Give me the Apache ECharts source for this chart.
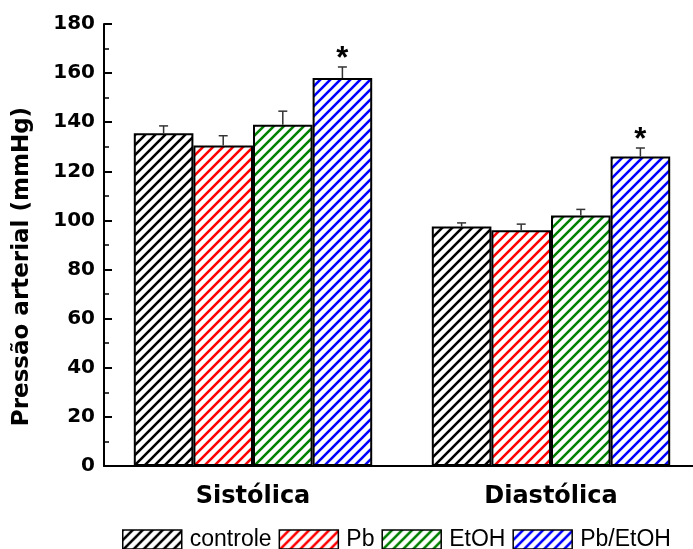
<!DOCTYPE html>
<html>
<head>
<meta charset="utf-8">
<script src="https://cdn.jsdelivr.net/npm/echarts@6/dist/echarts.min.js"></script>
<style>html,body{margin:0;padding:0;background:#fff}#c{width:693px;height:549px}</style>
</head>
<body>
<div id="c"></div>
<script>
var categories = ['Sistólica', 'Diastólica'];
var seriesNames = ['controle', 'Pb', 'EtOH', 'Pb/EtOH'];
var controleVals = [135.5, 97.5];
var pbVals = [130.5, 96];
var etohVals = [139, 102];
var pbEtohVals = [158, 126];
var controleErr = [3, 1.5];
var pbErr = [4, 2.5];
var etohErr = [5.5, 2.5];
var pbEtohErr = [4.5, 3.5];
var controleSig = ['', ''];
var pbSig = ['', ''];
var etohSig = ['', ''];
var pbEtohSig = ['*', '*'];
var yTicks = [0, 20, 40, 60, 80, 100, 120, 140, 160, 180];
var colors = ['#000000', '#ff0000', '#008000', '#0000ff'];

var values = [controleVals, pbVals, etohVals, pbEtohVals];
var errs = [controleErr, pbErr, etohErr, pbEtohErr];
var sigs = [controleSig, pbSig, etohSig, pbEtohSig];

var boldFont = '"DejaVu Sans", Verdana, sans-serif';
var plainFont = '"Liberation Sans", Arial, sans-serif';

function hatch(color) {
  var s = 10;
  var cv = document.createElement('canvas');
  cv.width = s; cv.height = s;
  var ctx = cv.getContext('2d');
  ctx.fillStyle = '#fff';
  ctx.fillRect(0, 0, s, s);
  ctx.strokeStyle = color;
  ctx.lineWidth = 2.6;
  ctx.lineCap = 'square';
  ctx.beginPath();
  ctx.moveTo(-2, s + 2); ctx.lineTo(s + 2, -2);
  ctx.moveTo(-2, 2); ctx.lineTo(2, -2);
  ctx.moveTo(s - 2, s + 2); ctx.lineTo(s + 2, s - 2);
  ctx.stroke();
  return cv;
}

var chart = echarts.init(document.getElementById('c'), null, {renderer: 'canvas'});
var nS = seriesNames.length;
var series = [];
seriesNames.forEach(function (name, i) {
  series.push({
    name: name,
    type: 'bar',
    data: values[i],
    barGap: '0%',
    barCategoryGap: '20%',
    itemStyle: {
      color: {image: hatch(colors[i]), repeat: 'repeat'},
      borderColor: '#000',
      borderWidth: 2
    },
    emphasis: {disabled: true}
  });
});
seriesNames.forEach(function (name, i) {
  series.push({
    type: 'custom',
    name: name + '_err',
    z: 5,
    data: values[i].map(function (v, k) { return [k, v, errs[i][k]]; }),
    renderItem: function (params, api) {
      var k = api.value(0), v = api.value(1), e = api.value(2);
      var sig = sigs[i][k];
      var band = api.size([1, 0])[0];
      var bw = band * 0.8 / nS;
      var off = -band * 0.4 + bw * (i + 0.5);
      var top = api.coord([k, v + e]);
      var base = api.coord([k, v]);
      var x = top[0] + off;
      var children = [
        {type: 'line', shape: {x1: x, y1: base[1], x2: x, y2: top[1]}, style: {stroke: '#333', lineWidth: 1.5}},
        {type: 'line', shape: {x1: x - 4.5, y1: top[1], x2: x + 4.5, y2: top[1]}, style: {stroke: '#333', lineWidth: 1.5}}
      ];
      if (sig) {
        children.push({type: 'text', style: {text: sig, x: x, y: top[1] + 8, align: 'center', verticalAlign: 'bottom',
          font: 'bold 31px "Liberation Sans", Arial, sans-serif', fill: '#000'}});
      }
      return {type: 'group', children: children};
    }
  });
});

chart.setOption({
  animation: false,
  backgroundColor: '#fff',
  grid: {left: 104, top: 24, height: 442, width: 596, containLabel: false, outerBoundsMode: 'none'},
  legend: {
    data: seriesNames,
    left: 122,
    top: 528,
    padding: 0,
    icon: 'rect',
    itemWidth: 59,
    itemHeight: 19,
    itemGap: 7,
    textStyle: {fontFamily: plainFont, fontSize: 23, color: '#000', padding: [0, 0, 0, 3]},
    itemStyle: {borderColor: '#000', borderWidth: 1.5}
  },
  xAxis: {
    type: 'category',
    data: categories,
    boundaryGap: true,
    axisLine: {lineStyle: {color: '#000', width: 2}},
    axisTick: {inside: true, length: 4, lineStyle: {color: '#000', width: 1.5}},
    axisLabel: {color: '#000', fontFamily: boldFont, fontWeight: 'bold', fontSize: 24, margin: 19},
    splitLine: {show: false}
  },
  yAxis: {
    type: 'value',
    min: yTicks[0],
    max: yTicks[yTicks.length - 1],
    interval: yTicks[1] - yTicks[0],
    name: 'Pressão arterial (mmHg)',
    nameLocation: 'middle',
    nameGap: 70,
    nameTextStyle: {color: '#000', fontFamily: boldFont, fontWeight: 'bold', fontSize: 23, padding: [0, 43, 0, 0]},
    axisLine: {show: true, lineStyle: {color: '#000', width: 2}},
    axisTick: {show: true, inside: true, length: 8, lineStyle: {color: '#000', width: 2}},
    minorTick: {show: true, splitNumber: 2, length: 5, lineStyle: {color: '#000', width: 1.5}},
    axisLabel: {color: '#000', fontFamily: boldFont, fontWeight: 'bold', fontSize: 20, margin: 9},
    splitLine: {show: false},
    minorSplitLine: {show: false}
  },
  series: series
});
</script>
</body>
</html>
